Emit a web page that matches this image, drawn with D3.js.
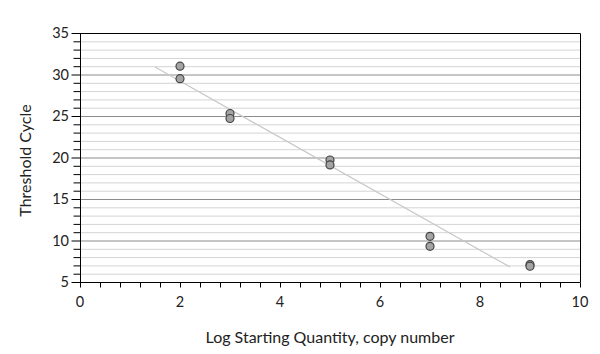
<!DOCTYPE html>
<html>
<head>
<meta charset="utf-8">
<script src="https://cdn.jsdelivr.net/npm/d3@7"></script>
<style>
  body { margin: 0; background: #fff; }
  svg text { font-family: Lato, "Open Sans", sans-serif; fill: #222; }
</style>
</head>
<body>
<svg id="chart"></svg>
<script>
// replicate data, log starting quantity vs threshold cycle
var logQty = [2, 2, 3, 3, 5, 5, 7, 7, 9, 9]
var ctValues = [31.0, 29.5, 25.3, 24.7, 19.7, 19.1, 10.5, 9.3, 7.1, 6.9]
var trendX = [1.5, 8.6]
var trendY = [30.9, 6.8]
var xTicks = [0, 2, 4, 6, 8, 10]
var yTicks = [5, 10, 15, 20, 25, 30, 35]

var width = 600
var height = 354
var margin = {top: 33, right: 20, bottom: 72, left: 80}

let svg = d3.select("#chart")
  .attr("width", width)
  .attr("height", height)

let x = d3.scaleLinear().domain([0, 10]).range([margin.left, width - margin.right])
let y = d3.scaleLinear().domain([5, 35]).range([height - margin.bottom, margin.top])

// minor grid every 1 cycle
svg.append("g")
  .selectAll("line")
  .data(d3.range(6, 35, 1).filter(v => v % 5 != 0))
  .join("line")
  .attr("x1", x(0)).attr("x2", x(10))
  .attr("y1", d => y(d) + 0.5).attr("y2", d => y(d) + 0.5)
  .attr("stroke", "#d4d4d4")

// major grid
svg.append("g")
  .selectAll("line")
  .data(yTicks.filter(v => v > 5 && v < 35))
  .join("line")
  .attr("x1", x(0)).attr("x2", x(10))
  .attr("y1", d => y(d) + 0.5).attr("y2", d => y(d) + 0.5)
  .attr("stroke", "#8c8c8c")

// top + right border
svg.append("path")
  .attr("d", "M" + x(0) + "," + (y(35) + 0.5) + "H" + (x(10) + 0.5) + "V" + y(5))
  .attr("fill", "none")
  .attr("stroke", "#000")

// x axis with minor ticks every 0.4
let xAxis = svg.append("g")
  .attr("transform", "translate(0," + (y(5) + 0.5) + ")")
xAxis.call(d3.axisBottom(x).tickValues(d3.range(0, 10.01, 0.4)).tickSize(5).tickFormat(""))
xAxis.select(".domain").attr("d", "M" + x(0) + ",0H" + (x(10) + 0.5))
xAxis.selectAll(".tick line").attr("stroke", "#000")
xAxis.selectAll(".tick text").remove()
svg.append("g")
  .selectAll("text")
  .data(xTicks)
  .join("text")
  .attr("x", d => x(d))
  .attr("y", y(5) + 25)
  .attr("text-anchor", "middle")
  .attr("font-size", 14.5)
  .text(d => d)

// y axis
let yAxis = svg.append("g")
  .attr("transform", "translate(" + (x(0) + 0.5) + ",0)")
yAxis.call(d3.axisLeft(y).tickValues(d3.range(5, 35.01, 1)).tickSize(7).tickFormat(""))
yAxis.select(".domain").attr("d", "M0," + y(35) + "V" + (y(5) + 0.5))
yAxis.selectAll(".tick line").attr("stroke", "#000")
  .attr("x2", d => d % 5 == 0 ? -9 : -7)
svg.append("g")
  .selectAll("text")
  .data(yTicks)
  .join("text")
  .attr("x", x(0) - 11)
  .attr("y", d => y(d))
  .attr("dy", "0.35em")
  .attr("text-anchor", "end")
  .attr("font-size", 14.5)
  .text(d => d)

// regression line
svg.append("line")
  .attr("x1", x(trendX[0])).attr("y1", y(trendY[0]))
  .attr("x2", x(trendX[1])).attr("y2", y(trendY[1]))
  .attr("stroke", "#c8c8c8")
  .attr("stroke-width", 1.2)

// points
svg.append("g")
  .selectAll("circle")
  .data(logQty.map((q, i) => ({q: q, ct: ctValues[i]})))
  .join("circle")
  .attr("cx", d => x(d.q))
  .attr("cy", d => y(d.ct))
  .attr("r", 4)
  .attr("fill", "#a4a4a4")
  .attr("stroke", "#444")
  .attr("stroke-width", 1.2)

// axis titles
svg.append("text")
  .attr("x", (x(0) + x(10)) / 2)
  .attr("y", 343)
  .attr("text-anchor", "middle")
  .attr("font-size", 16)
  .text("Log Starting Quantity, copy number")

svg.append("text")
  .attr("transform", "translate(31," + ((y(5) + y(35)) / 2 + 3) + ") rotate(-90)")
  .attr("text-anchor", "middle")
  .attr("font-size", 16)
  .text("Threshold Cycle")
</script>
</body>
</html>
